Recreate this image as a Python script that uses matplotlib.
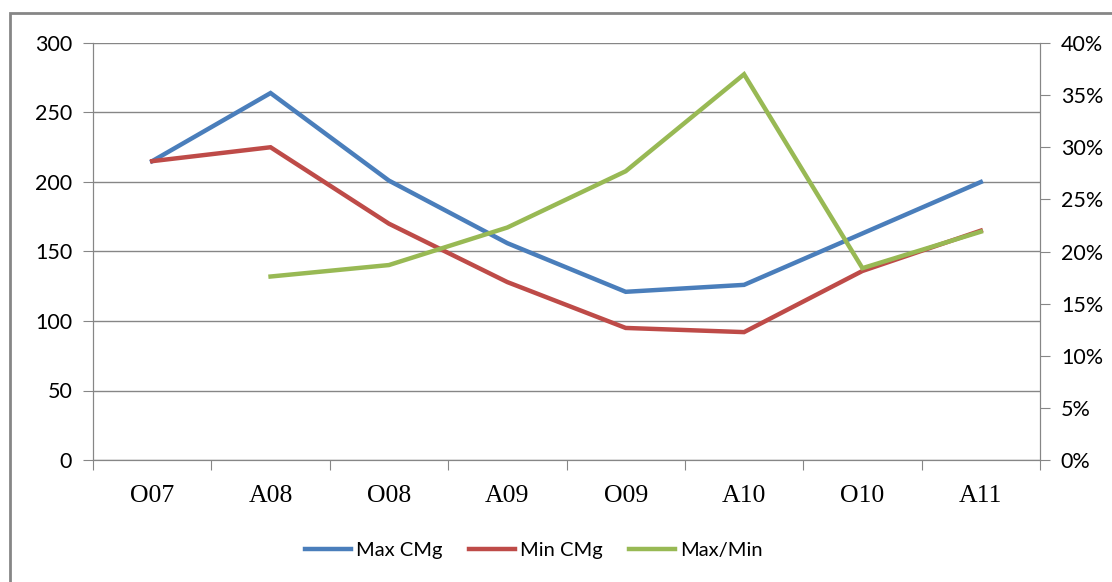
import numpy as np
import matplotlib.pyplot as plt
from matplotlib.patches import Rectangle

categories = ['O07', 'A08', 'O08', 'A09', 'O09', 'A10', 'O10', 'A11']
max_cmg = [215, 264, 201, 156, 121, 126, 163, 200]
min_cmg = [215, 225, 170, 128, 95, 92, 136, 165]
max_min = [np.nan, 17.6, 18.7, 22.3, 27.7, 37.0, 18.4, 21.9]  # percent

blue = '#4A7EBB'
red = '#BE4B48'
green = '#98B954'
gray = '#868686'

fig = plt.figure(figsize=(11.12, 5.82), dpi=100)

# outer chart border
fig.patches.append(Rectangle((10/1112, -0.1), 1.2, 1 - 13/582 + 0.1, transform=fig.transFigure,
                             fill=False, edgecolor=gray, linewidth=2))

ax = fig.add_axes([93/1112, 1 - 460/582, 947/1112, 417/582])
ax2 = ax.twinx()

x = np.arange(len(categories))
l1, = ax.plot(x, max_cmg, color=blue, lw=3.2, solid_joinstyle='miter', label='Max CMg')
l2, = ax.plot(x, min_cmg, color=red, lw=3.2, solid_joinstyle='miter', label='Min CMg')
l3, = ax2.plot(x, max_min, color=green, lw=3.2, solid_joinstyle='miter', label='Max/Min')

ax.set_xlim(-0.5, len(categories) - 0.5)
ax.set_ylim(0, 300)
ax2.set_ylim(0, 40)
ax.set_yticks(np.arange(0, 301, 50))
ax2.set_yticks(np.arange(0, 41, 5))
ax2.set_yticklabels([f'{v}%' for v in range(0, 41, 5)])

ax.grid(axis='y', color=gray, lw=1)
ax.set_axisbelow(True)

ax.set_xticks(np.arange(-0.5, len(categories), 1))
ax.set_xticklabels([])
ax.set_xticks(x, minor=True)
ax.set_xticklabels(categories, minor=True, family='Liberation Serif', fontsize=18.5)
ax.tick_params(axis='x', which='minor', length=0, pad=18)
ax.tick_params(axis='x', which='major', length=7, color=gray, direction='out')
ax.tick_params(axis='y', length=7, color=gray, labelsize=15.5, pad=8)
ax2.tick_params(axis='y', length=7, color=gray, labelsize=15.5, pad=8)
for lab in ax.get_yticklabels() + ax2.get_yticklabels():
    lab.set_family('Lato')

for a in (ax, ax2):
    a.spines['top'].set_visible(False)
    for s in ('left', 'right', 'bottom'):
        a.spines[s].set_color(gray)

fig.legend(handles=[l1, l2, l3], loc='center', bbox_to_anchor=(534/1112, 1 - 550/582), ncol=3,
           frameon=False, prop={'family': 'Lato', 'size': 14.5}, handlelength=2.3,
           handletextpad=0.25, columnspacing=1.3)

fig.savefig('out.png', dpi=100)
